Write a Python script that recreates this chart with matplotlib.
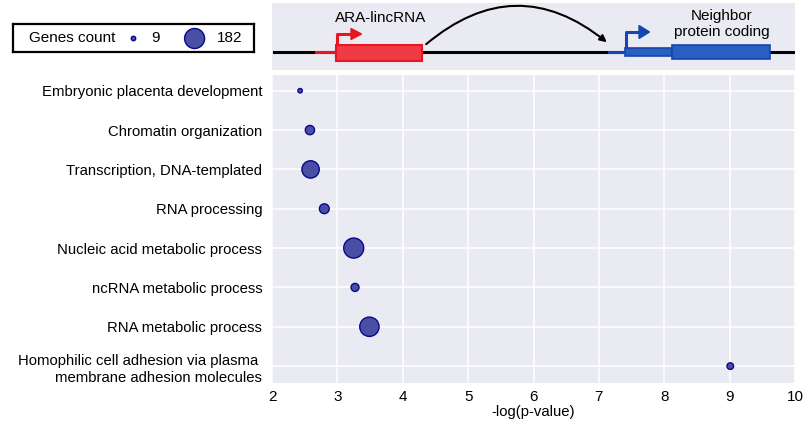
import matplotlib
matplotlib.use("Agg")
import matplotlib.pyplot as plt
from matplotlib.patches import Rectangle, FancyArrowPatch, Polygon
import numpy as np

plt.rcParams['font.family'] = ['Liberation Sans', 'DejaVu Sans']

# ---- data ----
terms = [
    "Embryonic placenta development",
    "Chromatin organization",
    "Transcription, DNA-templated",
    "RNA processing",
    "Nucleic acid metabolic process",
    "ncRNA metabolic process",
    "RNA metabolic process",
    "Homophilic cell adhesion via plasma \nmembrane adhesion molecules",
]
neg_log_p = [2.43, 2.58, 2.59, 2.80, 3.25, 3.27, 3.49, 9.01]
gene_counts = [9, 39, 137, 44, 182, 29, 170, 20]
legend_counts = [9, 182]
xticks = [2, 3, 4, 5, 6, 7, 8, 9, 10]

W, H = 805, 425
fig = plt.figure(figsize=(W / 100, H / 100), dpi=100)

def px_axes(x0, y0, x1, y1):
    return fig.add_axes([x0 / W, 1 - y1 / H, (x1 - x0) / W, (y1 - y0) / H])

SIZE_K = 1.14
def size_of(c):
    return np.asarray(c, dtype=float) * SIZE_K

FACE = "#4a4fa6"
EDGE = "#08088a"
BG = "#eaeaf2"

# ---- main axes ----
ax = px_axes(272, 75, 795, 383)
ax.set_facecolor(BG)
ypos = np.arange(len(terms))
ax.scatter(neg_log_p, ypos, s=size_of(gene_counts), c=FACE, edgecolors=EDGE,
           linewidths=1.0, zorder=3)
ax.set_xlim(2, 10)
ax.set_ylim(len(terms) - 1 + 0.43, -0.4)
ax.set_xticks(xticks)
ax.set_yticks(ypos)
ax.set_yticklabels(terms, fontsize=10.7, multialignment='right', linespacing=1.35)
ax.set_xticklabels([str(t) for t in xticks], fontsize=11)
ax.grid(True, color='white', linewidth=1.1)
ax.set_axisbelow(True)
for sp in ax.spines.values():
    sp.set_visible(False)
ax.tick_params(length=0, pad=7)
ax.tick_params(axis='x', pad=5)
ax.set_xlabel("-log(p-value)", fontsize=10.7, labelpad=1)

# ---- legend box ----
lg = px_axes(13, 24, 254, 52)
lg.set_xlim(13, 254)
lg.set_ylim(52, 24)
lg.set_facecolor('white')
for sp in lg.spines.values():
    sp.set_linewidth(1.6)
    sp.set_color('black')
lg.set_xticks([])
lg.set_yticks([])
lg.text(72, 38.5, "Genes count", ha='center', va='center', fontsize=11)
lg.scatter([133.5, 194.6], [38.5, 38.5], s=size_of(legend_counts), c=FACE,
           edgecolors=EDGE, linewidths=1.0)
lg.text(155, 38.5, str(legend_counts[0]), ha='center', va='center', fontsize=11)
lg.text(230, 38.5, str(legend_counts[1]), ha='center', va='center', fontsize=11)

# ---- gene diagram panel ----
dg = px_axes(272, 3, 795, 70)
dg.set_xlim(272, 795)
dg.set_ylim(70, 3)
dg.set_facecolor(BG)
for sp in dg.spines.values():
    sp.set_visible(False)
dg.set_xticks([])
dg.set_yticks([])

RED_E = "#e8161f"
RED_F = "#ef3b45"
BLUE_E = "#1448b0"
BLUE_F = "#2a5fc2"

dg.plot([274, 795], [52, 52], color='black', lw=2.2, zorder=1)
dg.plot([316, 337], [52, 52], color=RED_E, lw=2.2, zorder=2)
dg.add_patch(Rectangle((336, 45), 86, 16, facecolor=RED_F, edgecolor=RED_E, lw=1.5, zorder=3))
dg.plot([337, 337, 352], [45, 34, 34], color=RED_E, lw=2.2, solid_capstyle='butt', zorder=3)
dg.add_patch(Polygon([[351, 28.5], [361.5, 34], [351, 39.5]], closed=True, color=RED_E, zorder=3))
dg.text(381, 18, "ARA-lincRNA", ha='center', va='center', fontsize=11)

dg.plot([609, 626], [52, 52], color=BLUE_E, lw=2.2, zorder=2)
dg.add_patch(Rectangle((625, 48), 47, 7.5, facecolor=BLUE_F, edgecolor=BLUE_E, lw=1.2, zorder=3))
dg.add_patch(Rectangle((672, 44.5), 98, 14.5, facecolor=BLUE_F, edgecolor=BLUE_E, lw=1.2, zorder=3))
dg.plot([626, 626, 640], [48, 32, 32], color=BLUE_E, lw=2.2, solid_capstyle='butt', zorder=3)
dg.add_patch(Polygon([[639, 25.5], [649.5, 32], [639, 38.5]], closed=True, color=BLUE_E, zorder=3))
dg.text(722, 24, "Neighbor\nprotein coding", ha='center', va='center', fontsize=11,
        linespacing=1.12)

arc = FancyArrowPatch((424, 46), (609, 44), connectionstyle="arc3,rad=-0.42",
                      arrowstyle='-|>,head_length=4,head_width=2', color='black',
                      lw=1.5, zorder=4)
dg.add_patch(arc)

fig.savefig("out.png", dpi=100)
